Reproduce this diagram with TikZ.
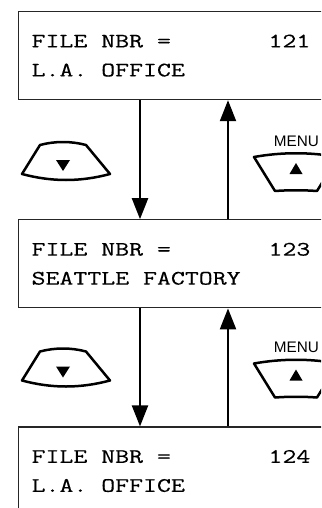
\documentclass[tikz,border=0pt]{standalone}
\usepackage{fontspec}
\setmonofont{Latin Modern Mono}[FakeStretch=1.32, FakeBold=0.4]
\setsansfont{Liberation Sans}
\usepackage{tikz}
\usetikzlibrary{arrows.meta,positioning}
\newcommand{\chsp}[1][0]{\hphantom{#1}}

\begin{document}
\begin{tikzpicture}[
    x=1pt, y=-1pt,
    screen/.style={draw=black!85, line width=1.2pt, anchor=north west, align=left,
        font=\fontsize{20.5}{29}\selectfont\ttfamily,
        minimum width=320pt, minimum height=88pt, text width=294pt, inner xsep=13pt},
    arr/.style={-{Triangle[length=21pt,width=16pt]}, line width=2.2pt},
    btn/.style={line width=2.5pt, line join=round},
    keymark/.style={fill=black}
]
\useasboundingbox (0,0) rectangle (321,508);
\clip (0,0) rectangle (321,508);

\node[screen] (file1) at (18,11) {FILE\chsp NBR\chsp=\chsp[0000000]121\\L.A.\chsp OFFICE};
\node[screen, below=119pt of file1.south west, anchor=north west] (file2) {FILE\chsp NBR\chsp=\chsp[0000000]123\\SEATTLE\chsp FACTORY};
\node[screen, below=118pt of file2.south west, anchor=north west] (file3) {FILE\chsp NBR\chsp=\chsp[0000000]124\\L.A.\chsp OFFICE};

\coordinate (dn) at (140,0);
\coordinate (up) at (228,0);

\draw[arr] (file1.south -| dn) -- (file2.north -| dn);
\draw[arr] (file2.north -| up) -- (file1.south -| up);
\draw[arr] (file2.south -| dn) -- (file3.north -| dn);
\draw[arr] (file3.north -| up) -- (file2.south -| up);

% scroll keys
\foreach \dy/\k in {0/a,206.5/b}{
  \begin{scope}[shift={(0,\dy)}]
    \draw[btn] (40,145) .. controls (55,141) and (71,141) .. (86,145)
      -- (110,174) .. controls (80,182) and (52,182) .. (22,174) -- cycle;
    \fill[keymark] (56,160) -- (70,160) -- (63,171) -- cycle;
    \draw[btn] (254,157) .. controls (282,152) and (310,152) .. (338,157)
      -- (317,191) .. controls (303,190) and (289,190) .. (275,191) -- cycle;
    \fill[keymark] (289.5,174) -- (302.5,174) -- (296,163) -- cycle;
    \node[font=\fontsize{15.3}{18}\selectfont\sffamily, anchor=base, inner sep=0pt]
      (menu\k) at (296.5,146.3) {MENU};
  \end{scope}
}
\end{tikzpicture}
\end{document}
